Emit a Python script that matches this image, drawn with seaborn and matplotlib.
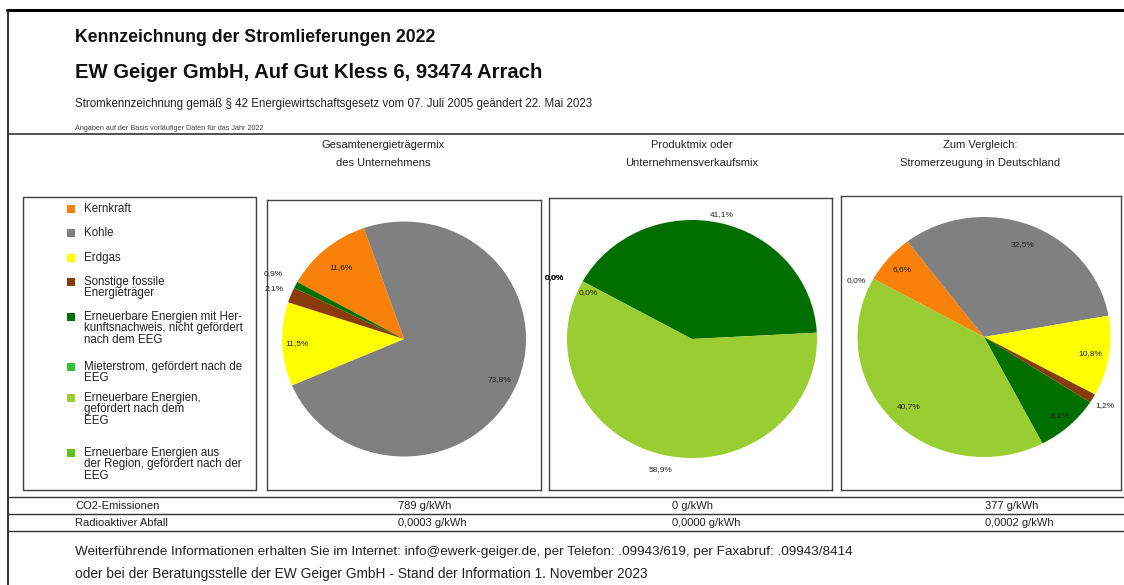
import matplotlib
matplotlib.use("Agg")
import matplotlib.pyplot as plt
import seaborn as sns
import numpy as np
from matplotlib.patches import Rectangle

# Energieträger (Reihenfolge wie in der Legende)
kategorien = [
    "Kernkraft",
    "Kohle",
    "Erdgas",
    "Sonstige fossile\nEnergieträger",
    "Erneuerbare Energien mit Her-\nkunftsnachweis, nicht gefördert\nnach dem EEG",
    "Mieterstrom, gefördert nach de\nEEG",
    "Erneuerbare Energien,\ngefördert nach dem\nEEG",
    "Erneuerbare Energien aus\nder Region, gefördert nach der\nEEG",
]
farben = ["#F98009", "#808080", "#FFFF00", "#8A3B0E",
          "#006F00", "#33C233", "#9ACD32", "#5FC21A"]

# Anteile in %
gesamtmix = [11.6, 73.8, 11.5, 2.1, 0.9, 0.0, 0.0, 0.0]
produktmix = [0.0, 0.0, 0.0, 0.0, 41.1, 0.0, 58.9, 0.0]
deutschland = [6.6, 32.5, 10.8, 1.2, 8.2, 0.0, 40.7, 0.0]

spalten_titel = [
    "Gesamtenergieträgermix\ndes Unternehmens",
    "Produktmix oder\nUnternehmensverkaufsmix",
    "Zum Vergleich:\nStromerzeugung in Deutschland",
]
co2_emissionen = [789, 0, 377]          # g/kWh
radioaktiver_abfall = [0.0003, 0.0, 0.0002]  # g/kWh

W, H = 1124, 585

sns.set_theme(style="white")
plt.rcParams["font.family"] = ["Liberation Sans", "DejaVu Sans"]
palette = sns.color_palette(farben)

fig = plt.figure(figsize=(W / 100, H / 100), dpi=100)
fig.patch.set_facecolor("white")

# Hintergrund-Achse in Pixelkoordinaten für Rahmen und Texte
bg = fig.add_axes([0, 0, 1, 1])
bg.set_xlim(0, W)
bg.set_ylim(H, 0)
bg.axis("off")

bg.plot([7, W], [10, 10], color="black", lw=2.2)
bg.plot([8, 8], [10, H], color="#222222", lw=1.3)
bg.plot([8, W], [134, 134], color="#333333", lw=1.2)
for y in [497, 514, 531]:
    bg.plot([8, W], [y, y], color="#333333", lw=1.0)

bg.text(75, 37, "Kennzeichnung der Stromlieferungen 2022",
        fontsize=12.7, fontweight="bold", va="center", color="#111111")
bg.text(75, 73, "EW Geiger GmbH, Auf Gut Kless 6, 93474 Arrach",
        fontsize=14.6, fontweight="bold", va="center", color="#111111")
bg.text(75, 104, "Stromkennzeichnung gemäß § 42 Energiewirtschaftsgesetz vom 07. Juli 2005 geändert 22. Mai 2023",
        fontsize=8.3, va="center", color="#222222")
bg.text(75, 128, "Angaben auf der Basis vorläufiger Daten für das Jahr 2022",
        fontsize=5.2, va="center", color="#444444")

titel_x = [383, 692, 980]
for x, t in zip(titel_x, spalten_titel):
    zeile1, zeile2 = t.split("\n")
    bg.text(x, 145, zeile1, fontsize=8, ha="center", va="center", color="#222222")
    bg.text(x, 163, zeile2, fontsize=8, ha="center", va="center", color="#222222")

# Legende
bg.add_patch(Rectangle((23, 197), 233, 293, fill=False, ec="#404040", lw=1.0))
legende_y = [209, 233, 258, 282, 317, 367, 398, 453]
for y, name, c in zip(legende_y, kategorien, palette):
    bg.add_patch(Rectangle((67, y - 4), 8, 8, color=c, lw=0))
    bg.text(84, y - 6, name, fontsize=8.3, va="top", ha="left",
            linespacing=0.92, color="#222222")

# Tabelle
bg.text(75, 506, "CO2-Emissionen", fontsize=8, va="center", color="#222222")
bg.text(75, 523, "Radioaktiver Abfall", fontsize=8, va="center", color="#222222")
werte_x = [398, 672, 985]
for x, c, a in zip(werte_x, co2_emissionen, radioaktiver_abfall):
    bg.text(x, 506, f"{c} g/kWh", fontsize=8, va="center", color="#222222")
    bg.text(x, 523, f"{a:.4f} g/kWh".replace(".", ","), fontsize=8,
            va="center", color="#222222")

bg.text(75, 552, "Weiterführende Informationen erhalten Sie im Internet: info@ewerk-geiger.de, "
        "per Telefon: .09943/619, per Faxabruf: .09943/8414",
        fontsize=9.7, va="center", color="#222222")
bg.text(75, 574, "oder bei der Beratungsstelle der EW Geiger GmbH - Stand der Information 1. November 2023",
        fontsize=9.9, va="center", color="#222222")

# Tortendiagramme: Rahmen (x0, y0, x1, y1), Mittelpunkt und Radien in Pixeln
boxen = [(267, 200, 541, 490), (549, 198, 832, 490), (841, 196, 1121, 490)]
zentren = [(404, 339, 122, 117.5), (692, 339, 125, 119), (984, 337, 126.5, 120)]
# radialer Abstand der Beschriftungen je Segment (None = keine Beschriftung)
label_abstand = [
    [0.80, 0.85, 0.88, 1.15, 1.21, None, None, None],
    [1.22, 1.22, 1.22, 1.22, 1.07, None, 1.13, 0.92],
    [0.86, 0.83, 0.85, 1.11, 0.89, None, 0.83, 1.11],
]

for werte, box, zen, abst in zip([gesamtmix, produktmix, deutschland],
                                 boxen, zentren, label_abstand):
    x0, y0, x1, y1 = box
    cx, cy, rx, ry = zen
    ax = fig.add_axes([x0 / W, 1 - y1 / H, (x1 - x0) / W, (y1 - y0) / H])
    wedges, _ = ax.pie(werte, colors=palette, startangle=151, counterclock=False,
                       wedgeprops=dict(linewidth=0))
    ax.set_aspect("auto")
    ax.set_xlim((x0 - cx) / rx, (x1 - cx) / rx)
    ax.set_ylim((cy - y1) / ry, (cy - y0) / ry)
    ax.set_frame_on(True)
    for s in ax.spines.values():
        s.set_visible(True)
        s.set_color("#444444")
        s.set_linewidth(1.0)
    ax.set_xticks([])
    ax.set_yticks([])
    for w, v, r in zip(wedges, werte, abst):
        if r is None:
            continue
        winkel = (w.theta1 + w.theta2) / 2
        if v == 0:
            # 0-%-Beschriftungen etwas neben die Segmentgrenze setzen
            winkel += 4
        mitte = np.deg2rad(winkel)
        ax.text(r * np.cos(mitte), r * np.sin(mitte),
                f"{v:.1f}%".replace(".", ","), fontsize=6,
                ha="center", va="center", color="#222222")

fig.savefig("out.png", dpi=100, facecolor="white")
